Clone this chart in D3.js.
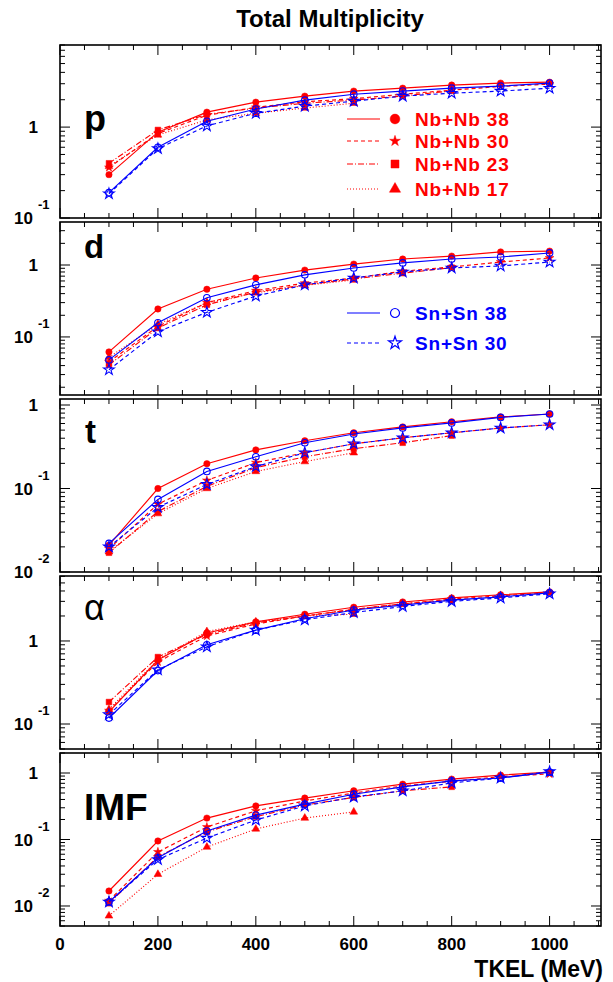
<!DOCTYPE html>
<html><head><meta charset="utf-8">
<script src="https://cdn.jsdelivr.net/npm/d3@7"></script>
<style>body{margin:0;background:#fff} text{font-family:"Liberation Sans",Arial,Helvetica,sans-serif}</style>
</head><body><svg id="c" width="613" height="982"></svg>
<script>
// ---------------- DATA ----------------
const energies = [100,200,300,400,500,600,700,800,900,1000];
const seriesNames = ["Nb+Nb 38","Nb+Nb 30","Nb+Nb 23","Nb+Nb 17","Sn+Sn 38","Sn+Sn 30"];
const panelNames = ["p","d","t","\u03b1","IMF"];
const xTickLabels = [0,200,400,600,800,1000];

// protons
const p_Nb38 = [0.30,0.88,1.46,1.88,2.19,2.49,2.68,2.90,3.05,3.12];
const p_Nb30 = [0.36,0.85,1.35,1.65,1.90,2.05,2.30,2.55,2.80,2.97];
const p_Nb23 = [0.40,0.93,1.38,1.62,1.83,1.98,2.20,2.50];
const p_Nb17 = [0.37,0.82,1.20,1.42,1.62,1.83];
const p_Sn38 = [0.19,0.60,1.16,1.58,1.98,2.30,2.49,2.68,2.82,3.05];
const p_Sn30 = [0.185,0.58,1.03,1.42,1.70,1.93,2.19,2.36,2.49,2.68];
// deuterons
const d_Nb38 = [0.062,0.245,0.46,0.66,0.85,1.03,1.21,1.33,1.52,1.56];
const d_Nb30 = [0.045,0.14,0.30,0.44,0.56,0.66,0.82,0.94,1.10,1.25];
const d_Nb23 = [0.041,0.133,0.28,0.42,0.53,0.64,0.77,0.92];
const d_Nb17 = [0.052,0.15,0.30,0.41,0.52,0.62];
const d_Sn38 = [0.048,0.157,0.35,0.53,0.73,0.91,1.07,1.21,1.29,1.47];
const d_Sn30 = [0.035,0.118,0.22,0.37,0.53,0.66,0.80,0.91,0.97,1.10];
// tritons
const t_Nb38 = [0.021,0.10,0.198,0.29,0.373,0.465,0.547,0.63,0.72,0.78];
const t_Nb30 = [0.019,0.065,0.125,0.204,0.268,0.343,0.405,0.465,0.53,0.58];
const t_Nb23 = [0.017,0.053,0.106,0.178,0.24,0.30,0.353,0.43];
const t_Nb17 = [0.0175,0.050,0.10,0.16,0.21,0.268];
const t_Sn38 = [0.022,0.074,0.16,0.24,0.353,0.45,0.532,0.61,0.71,0.78];
const t_Sn30 = [0.020,0.0595,0.112,0.183,0.268,0.343,0.405,0.465,0.53,0.58];
// alphas
const a_Nb38 = [0.14,0.59,1.25,1.70,2.10,2.55,2.95,3.30,3.60,3.90];
const a_Nb30 = [0.145,0.56,1.15,1.60,2.00,2.40,2.80,3.20,3.50,3.80];
const a_Nb23 = [0.184,0.64,1.20,1.65,2.00,2.40,2.80,3.10];
const a_Nb17 = [0.15,0.60,1.30,1.70,2.00,2.10];
const a_Sn38 = [0.118,0.44,0.90,1.35,1.85,2.36,2.70,3.10,3.40,3.80];
const a_Sn30 = [0.13,0.45,0.85,1.35,1.80,2.20,2.60,3.00,3.30,3.70];
// IMF
const i_Nb38 = [0.0168,0.095,0.21,0.32,0.42,0.54,0.68,0.81,0.93,1.03];
const i_Nb30 = [0.012,0.065,0.154,0.27,0.38,0.50,0.64,0.75,0.88,0.97];
const i_Nb23 = [0.011,0.055,0.13,0.22,0.33,0.43,0.54,0.62];
const i_Nb17 = [0.0071,0.030,0.077,0.144,0.21,0.26];
const i_Sn38 = [0.0115,0.053,0.134,0.233,0.34,0.48,0.62,0.76,0.84,1.03];
const i_Sn30 = [0.0115,0.050,0.105,0.196,0.32,0.435,0.54,0.71,0.84,1.05];

const yDomains = [[0.1,8],[0.0156,3.96],[0.01,1.18],[0.05,6.06],[0.005,2.0]];
const xDomain = [0,1105];

// ---------------- DRAW ----------------
const panelData = [
  [p_Nb38,p_Nb30,p_Nb23,p_Nb17,p_Sn38,p_Sn30],
  [d_Nb38,d_Nb30,d_Nb23,d_Nb17,d_Sn38,d_Sn30],
  [t_Nb38,t_Nb30,t_Nb23,t_Nb17,t_Sn38,t_Sn30],
  [a_Nb38,a_Nb30,a_Nb23,a_Nb17,a_Sn38,a_Sn30],
  [i_Nb38,i_Nb30,i_Nb23,i_Nb17,i_Sn38,i_Sn30]
];
const RED="#ff0000", BLUE="#0000ff";
const styles = [
  {color:RED, dash:null, sym:d3.symbolCircle, size:32, fill:true, lsize:75},
  {color:RED, dash:"4,3", sym:d3.symbolStar, size:24, fill:true, lsize:36},
  {color:RED, dash:"6,2,1,2", sym:d3.symbolSquare, size:32, fill:true, lsize:64},
  {color:RED, dash:"1,2", sym:d3.symbolTriangle, size:26, fill:true, lsize:54},
  {color:BLUE, dash:null, sym:d3.symbolCircle, size:34, fill:false, lsize:64},
  {color:BLUE, dash:"4,3", sym:d3.symbolStar, size:36, fill:false, lsize:52}
];

const svg = d3.select("#c");
const L=60, R=601;
const tops=[45,222,399,576,753], PH=173;
const x = d3.scaleLinear().domain(xDomain).range([L,R]);

svg.append("text").attr("x",330).attr("y",27).attr("text-anchor","middle")
  .attr("font-size",24).attr("font-weight","bold").text("Total Multiplicity");

panelNames.forEach((name,pi)=>{
  const top=tops[pi], bot=top+PH;
  const y = d3.scaleLog().domain(yDomains[pi]).range([bot,top]);
  const g = svg.append("g");
  const cid="clip"+pi;
  svg.append("clipPath").attr("id",cid).append("rect").attr("x",L).attr("y",top).attr("width",R-L).attr("height",PH);

  // x ticks (top & bottom)
  d3.range(0,1101,50).forEach(v=>{
    const len = (v%200===0)?10:5;
    g.append("line").attr("x1",x(v)).attr("x2",x(v)).attr("y1",bot).attr("y2",bot-len).attr("stroke","#000").attr("stroke-width",1);
    g.append("line").attr("x1",x(v)).attr("x2",x(v)).attr("y1",top).attr("y2",top+len).attr("stroke","#000").attr("stroke-width",1);
  });
  // y ticks log
  const [d0,d1]=yDomains[pi];
  for(let k=Math.floor(Math.log10(d0)); k<=Math.ceil(Math.log10(d1)); k++){
    for(let m=1;m<=9;m++){
      const v=m*Math.pow(10,k);
      if(v<d0*0.999||v>d1*1.001) continue;
      const len = m===1?10:5;
      const yy=y(v);
      g.append("line").attr("x1",L).attr("x2",L+len).attr("y1",yy).attr("y2",yy).attr("stroke","#000").attr("stroke-width",1);
      g.append("line").attr("x1",R).attr("x2",R-len).attr("y1",yy).attr("y2",yy).attr("stroke","#000").attr("stroke-width",1);
      if(m===1){
        if(k===0){
          g.append("text").attr("x",38).attr("y",yy+6).attr("text-anchor","end").attr("font-size",17).attr("font-weight","bold").text("1");
        } else {
          g.append("text").attr("x",33).attr("y",yy+6).attr("text-anchor","end").attr("font-size",17).attr("font-weight","bold").text("10");
          g.append("text").attr("x",38).attr("y",yy-9).attr("text-anchor","start").attr("font-size",13).attr("font-weight","bold").text(String(k));
        }
      }
    }
  }
  // frame
  g.append("rect").attr("x",L).attr("y",top).attr("width",R-L).attr("height",PH)
    .attr("fill","none").attr("stroke","#000").attr("stroke-width",1.6);

  // panel label
  const labelPos = [[84,131,36,"bold"],[84,258,33,"bold"],[85,443,33,"bold"],[84,620,36,"normal"],[84,820,37,"bold"]];
  const lp=labelPos[pi];
  g.append("text").attr("x",lp[0]).attr("y",lp[1]).attr("font-size",lp[2]).attr("font-weight",lp[3]).text(name);

  // series
  const line = d3.line().x((d,i)=>x(energies[i])).y(d=>y(d));
  const dg = svg.append("g").attr("clip-path",`url(#${cid})`);
  panelData[pi].forEach((vals,si)=>{
    const st=styles[si];
    dg.append("path").attr("d",line(vals)).attr("fill","none").attr("stroke",st.color)
      .attr("stroke-width",1.15).attr("stroke-dasharray",st.dash);
    vals.forEach((v,i)=>{
      dg.append("path").attr("d",d3.symbol().type(st.sym).size(st.size)())
        .attr("transform",`translate(${x(energies[i])},${y(v)})`)
        .attr("fill",st.fill?st.color:"none").attr("stroke",st.color).attr("stroke-width",st.fill?0.5:1.1);
    });
  });

  // legends
  const drawLegend = (idxs, rows)=>{
    idxs.forEach((si,j)=>{
      const st=styles[si], ry=rows[j];
      g.append("line").attr("x1",347).attr("x2",380).attr("y1",ry).attr("y2",ry)
        .attr("stroke",st.color).attr("stroke-width",1.1).attr("stroke-dasharray",st.dash);
      g.append("path").attr("d",d3.symbol().type(st.sym).size(st.lsize)())
        .attr("transform",`translate(395,${ry})`)
        .attr("fill",st.fill?st.color:"none").attr("stroke",st.color).attr("stroke-width",st.fill?0.5:1.2);
      g.append("text").attr("x",415).attr("y",ry+7).attr("font-size",19).attr("letter-spacing",0.8)
        .attr("font-weight","bold").attr("fill",st.color).text(seriesNames[si]);
    });
  };
  if(pi===0) drawLegend([0,1,2,3],[119,141,164,189]);
  if(pi===1) drawLegend([4,5],[313,343]);

  // x labels on last panel
  if(pi===panelNames.length-1){
    xTickLabels.forEach(v=>{
      svg.append("text").attr("x",x(v)).attr("y",950).attr("text-anchor","middle")
        .attr("font-size",17).attr("font-weight","bold").text(v);
    });
    svg.append("text").attr("x",603).attr("y",977).attr("text-anchor","end")
      .attr("font-size",23).attr("font-weight","bold").text("TKEL (MeV)");
  }
});
</script></body></html>
